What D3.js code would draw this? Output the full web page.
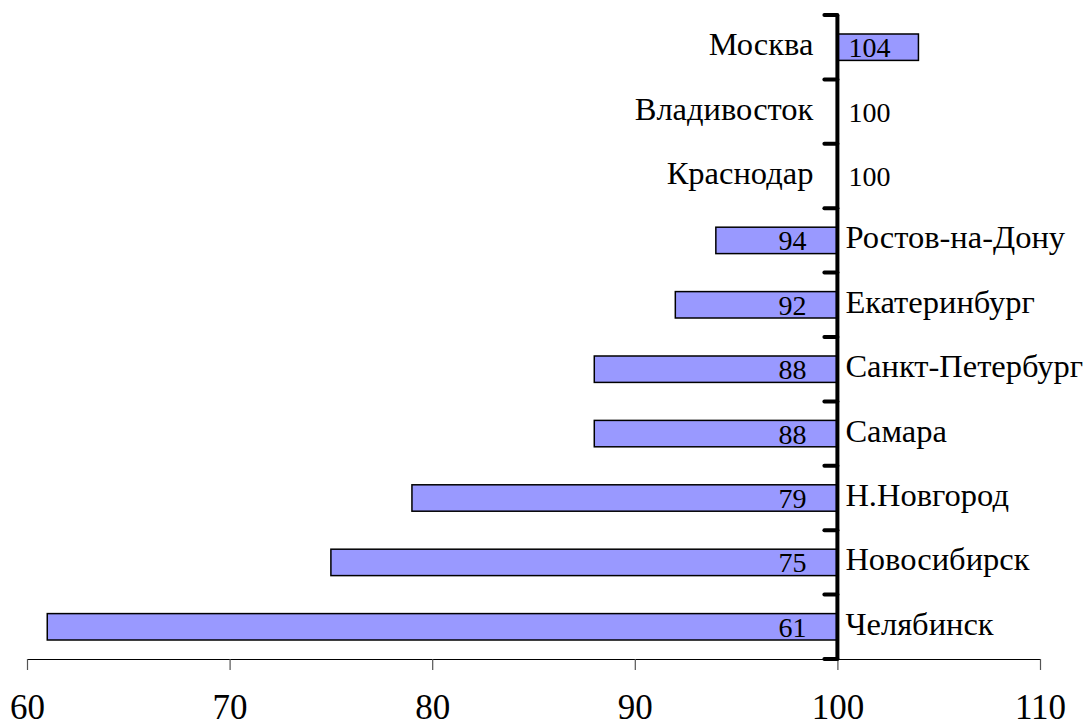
<!DOCTYPE html>
<html>
<head>
<meta charset="utf-8">
<script src="https://cdn.jsdelivr.net/npm/d3@7"></script>
<style>
  body { margin: 0; background: #fff; }
  svg { display: block; font-family: "Liberation Serif", "Times New Roman", serif; }
</style>
</head>
<body>
<div id="chart"></div>
<script>
const cities = ["Москва", "Владивосток", "Краснодар", "Ростов-на-Дону", "Екатеринбург",
  "Санкт-Петербург", "Самара", "Н.Новгород", "Новосибирск", "Челябинск"]
const values = [104, 100, 100, 94, 92, 88, 88, 79, 75, 61]
const xTicks = [60, 70, 80, 90, 100, 110]

const WIDTH = 1086
const HEIGHT = 727
const BASE = 100

const data = cities.map((c, i) => ({ city: c, value: values[i] }))

const svg = d3.select("#chart")
  .append("svg")
    .attr("width", WIDTH)
    .attr("height", HEIGHT)

const x = d3.scaleLinear()
  .domain([60, 110])
  .range([27, 1040])

const y = d3.scaleBand()
  .domain(cities)
  .range([15, 659])
  .paddingInner(0.59)
  .paddingOuter(0.295)

// x axis
const xAxisGroup = svg.append("g")
  .attr("transform", `translate(0, 659)`)
  .call(d3.axisBottom(x).tickValues(xTicks).tickSize(11).tickSizeOuter(0))

xAxisGroup.attr("font-family", null).attr("font-size", null)
xAxisGroup.select(".domain").attr("stroke", "#000").attr("stroke-width", 1.2)
xAxisGroup.selectAll(".tick line").attr("stroke", "#555").attr("stroke-width", 1.2)
xAxisGroup.selectAll(".tick text")
  .attr("y", 60)
  .attr("dy", null)
  .attr("font-size", 35)
  .attr("fill", "#000")

// bars
svg.selectAll("rect.bar")
  .data(data.filter(d => d.value !== BASE))
  .enter().append("rect")
    .attr("class", "bar")
    .attr("x", d => x(Math.min(d.value, BASE)))
    .attr("y", d => y(d.city))
    .attr("width", d => Math.abs(x(d.value) - x(BASE)))
    .attr("height", y.bandwidth())
    .attr("fill", "#9999ff")
    .attr("stroke", "#000")
    .attr("stroke-width", 1.5)

// vertical axis (at 100) with ticks at category boundaries
const boundaries = cities.map(c => y(c) + y.bandwidth() / 2 - y.step() / 2)
boundaries.push(y(cities[cities.length - 1]) + y.bandwidth() / 2 + y.step() / 2)

svg.append("line")
  .attr("x1", x(BASE)).attr("x2", x(BASE))
  .attr("y1", boundaries[0]).attr("y2", boundaries[boundaries.length - 1])
  .attr("stroke", "#000")
  .attr("stroke-width", 4)

svg.selectAll("line.ytick")
  .data(boundaries)
  .enter().append("line")
    .attr("class", "ytick")
    .attr("x1", x(BASE) - 13).attr("x2", x(BASE))
    .attr("y1", d => d).attr("y2", d => d)
    .attr("stroke", "#000")
    .attr("stroke-width", 4)
    .attr("stroke-linecap", "round")

// value labels
svg.selectAll("text.val")
  .data(data)
  .enter().append("text")
    .attr("class", "val")
    .attr("x", d => d.value >= BASE ? x(BASE) + 11 : x(BASE) - 31)
    .attr("y", d => y(d.city) + y.bandwidth() / 2 + 10)
    .attr("text-anchor", d => d.value >= BASE ? "start" : "end")
    .attr("font-size", 28)
    .attr("fill", "#000")
    .text(d => d.value)

// city labels
svg.selectAll("text.city")
  .data(data)
  .enter().append("text")
    .attr("class", "city")
    .attr("x", d => d.value >= BASE ? x(BASE) - 24 : x(BASE) + 8)
    .attr("y", d => y(d.city) + y.bandwidth() / 2 + 8)
    .attr("text-anchor", d => d.value >= BASE ? "end" : "start")
    .attr("font-size", 32.5)
    .attr("fill", "#000")
    .text(d => d.city)
</script>
</body>
</html>
